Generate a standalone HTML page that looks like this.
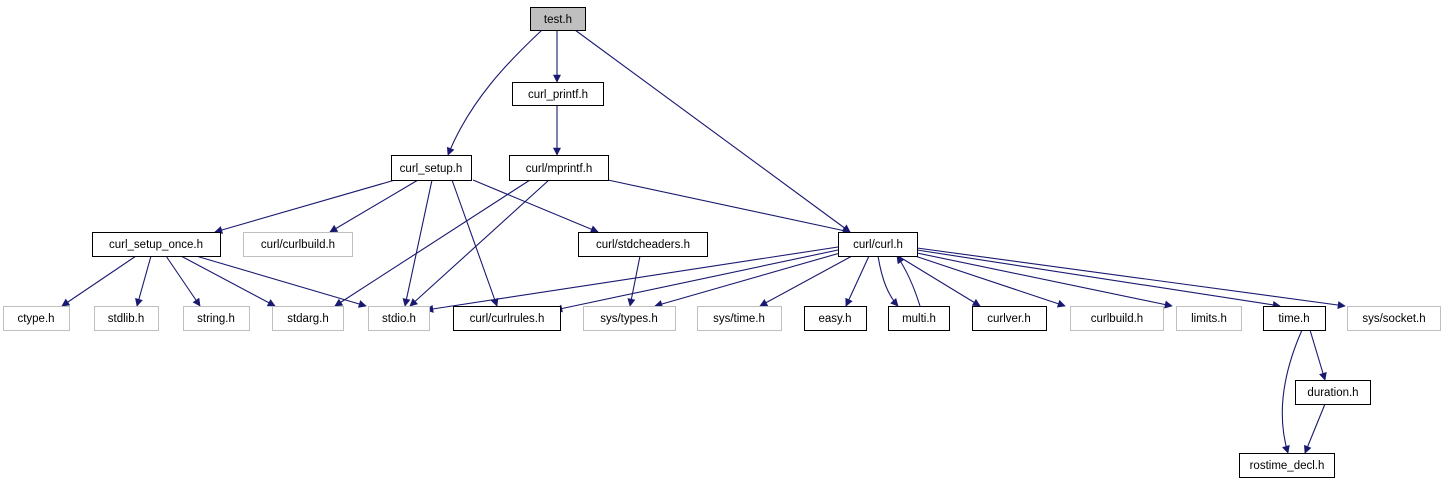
<!DOCTYPE html>
<html><head><meta charset="utf-8"><style>
html,body{margin:0;padding:0;background:#fff;width:1451px;height:485px;overflow:hidden}
svg text{font-family:"Liberation Sans",sans-serif;font-size:11.5px;text-anchor:middle}
</style></head><body>
<svg width="1451" height="485" viewBox="0 0 1451 485" xmlns="http://www.w3.org/2000/svg">
<defs><marker id="a" viewBox="0 0 10 10" refX="9" refY="5" markerWidth="10" markerHeight="8" markerUnits="userSpaceOnUse" orient="auto"><path d="M0,0 L10,5 L0,10 z" fill="#191970"/></marker></defs>
<g stroke="#191970" stroke-width="1.1" fill="none" marker-end="url(#a)">
<path d="M542,30 C510,60 470,100 448,155"/>
<path d="M557,30 L557,82"/>
<path d="M575,30 L850,232"/>
<path d="M557,105 L557,155"/>
<path d="M395,180 L215,232"/>
<path d="M418,180 L330,232"/>
<path d="M473,180 L598,232"/>
<path d="M432,180 L405,306"/>
<path d="M452,180 L497,306"/>
<path d="M530,180 L335,306"/>
<path d="M549,180 L410,306"/>
<path d="M608,180 L850,232"/>
<path d="M136,256 L62,306"/>
<path d="M151,256 L137,306"/>
<path d="M166,256 L200,306"/>
<path d="M181,256 L275,306"/>
<path d="M196,256 L366,306"/>
<path d="M640,256 L630,306"/>
<path d="M838,247 L426,310"/>
<path d="M838,250 L555,310"/>
<path d="M840,253 L655,306"/>
<path d="M852,256 L760,306"/>
<path d="M869,256 L846,306"/>
<path d="M878,256 C882,280 888,295 898,306"/>
<path d="M920,306 C915,290 908,272 897,256"/>
<path d="M898,256 L980,306"/>
<path d="M915,256 L1065,306"/>
<path d="M917,253 L1172,306"/>
<path d="M917,250 L1280,306"/>
<path d="M917,248 L1345,306"/>
<path d="M1302,330 C1280,380 1278,420 1288,453"/>
<path d="M1310,330 L1325,380"/>
<path d="M1325,404 L1305,453"/>
</g>
<g stroke-width="1">
<rect x="530.5" y="7.5" width="55" height="23" fill="#bfbfbf" stroke="#000"/>
<rect x="512.5" y="82.5" width="91" height="23" fill="#fff" stroke="#000"/>
<rect x="391.5" y="155.5" width="80" height="25" fill="#fff" stroke="#000"/>
<rect x="509.5" y="155.5" width="99" height="25" fill="#fff" stroke="#000"/>
<rect x="92.5" y="232.5" width="128" height="24" fill="#fff" stroke="#000"/>
<rect x="243.5" y="232.5" width="109" height="24" fill="#fff" stroke="#bfbfbf"/>
<rect x="578.5" y="232.5" width="129" height="24" fill="#fff" stroke="#000"/>
<rect x="838.5" y="232.5" width="79" height="24" fill="#fff" stroke="#000"/>
<rect x="3.5" y="306.5" width="66" height="24" fill="#fff" stroke="#bfbfbf"/>
<rect x="94.5" y="306.5" width="64" height="24" fill="#fff" stroke="#bfbfbf"/>
<rect x="183.5" y="306.5" width="66" height="24" fill="#fff" stroke="#bfbfbf"/>
<rect x="272.5" y="306.5" width="71" height="24" fill="#fff" stroke="#bfbfbf"/>
<rect x="368.5" y="306.5" width="61" height="24" fill="#fff" stroke="#bfbfbf"/>
<rect x="453.5" y="306.5" width="107" height="24" fill="#fff" stroke="#000"/>
<rect x="583.5" y="306.5" width="92" height="24" fill="#fff" stroke="#bfbfbf"/>
<rect x="697.5" y="306.5" width="84" height="24" fill="#fff" stroke="#bfbfbf"/>
<rect x="804.5" y="306.5" width="62" height="24" fill="#fff" stroke="#000"/>
<rect x="888.5" y="306.5" width="61" height="24" fill="#fff" stroke="#000"/>
<rect x="972.5" y="306.5" width="74" height="24" fill="#fff" stroke="#000"/>
<rect x="1070.5" y="306.5" width="93" height="24" fill="#fff" stroke="#bfbfbf"/>
<rect x="1176.5" y="306.5" width="65" height="24" fill="#fff" stroke="#bfbfbf"/>
<rect x="1263.5" y="306.5" width="62" height="24" fill="#fff" stroke="#000"/>
<rect x="1347.5" y="306.5" width="93" height="24" fill="#fff" stroke="#bfbfbf"/>
<rect x="1295.5" y="380.5" width="75" height="24" fill="#fff" stroke="#000"/>
<rect x="1239.5" y="453.5" width="95" height="24" fill="#fff" stroke="#000"/>
</g>
<g fill="#000">
<text x="558" y="23">test.h</text>
<text x="558" y="98">curl_printf.h</text>
<text x="431" y="172">curl_setup.h</text>
<text x="559" y="172">curl/mprintf.h</text>
<text x="156" y="248">curl_setup_once.h</text>
<text x="298" y="248">curl/curlbuild.h</text>
<text x="643" y="248">curl/stdcheaders.h</text>
<text x="878" y="248">curl/curl.h</text>
<text x="36" y="322">ctype.h</text>
<text x="126" y="322">stdlib.h</text>
<text x="216" y="322">string.h</text>
<text x="308" y="322">stdarg.h</text>
<text x="399" y="322">stdio.h</text>
<text x="507" y="322">curl/curlrules.h</text>
<text x="629" y="322">sys/types.h</text>
<text x="739" y="322">sys/time.h</text>
<text x="835" y="322">easy.h</text>
<text x="919" y="322">multi.h</text>
<text x="1009" y="322">curlver.h</text>
<text x="1117" y="322">curlbuild.h</text>
<text x="1209" y="322">limits.h</text>
<text x="1294" y="322">time.h</text>
<text x="1394" y="322">sys/socket.h</text>
<text x="1333" y="396">duration.h</text>
<text x="1287" y="469">rostime_decl.h</text>
</g>
</svg>
</body></html>
